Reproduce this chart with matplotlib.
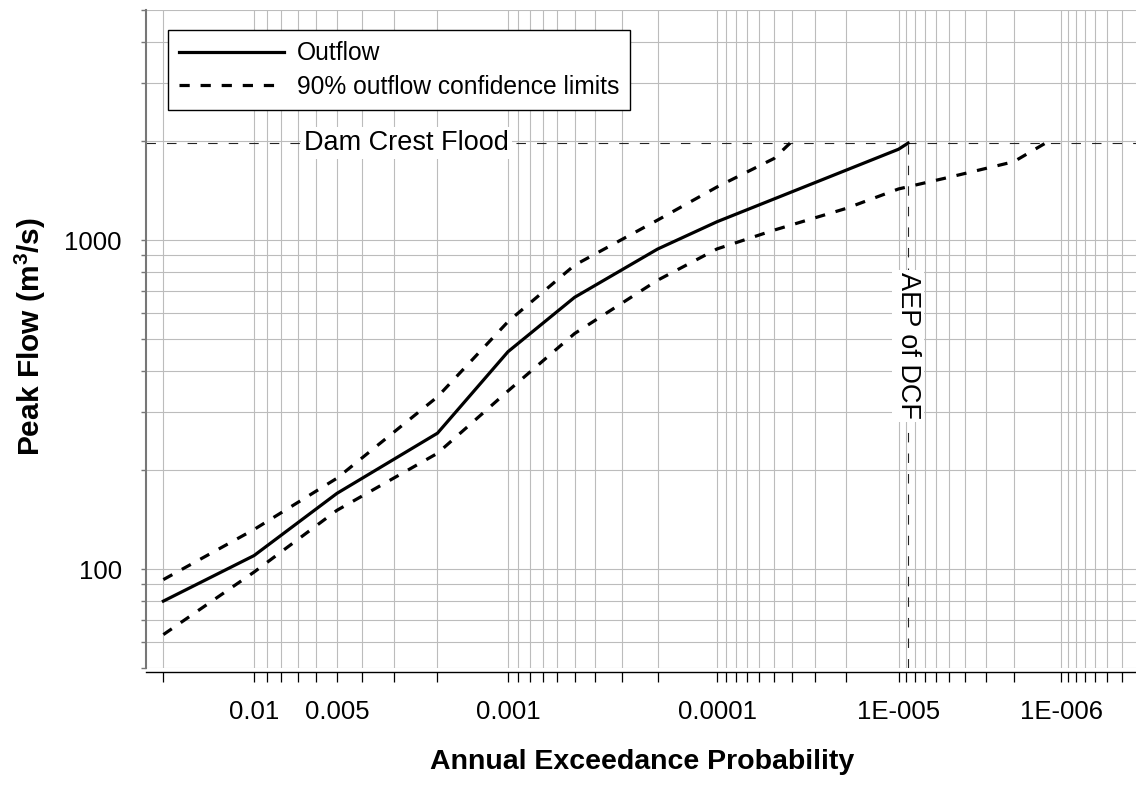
import numpy as np
import matplotlib
matplotlib.use("Agg")
import matplotlib.pyplot as plt
from matplotlib.ticker import FixedLocator, NullFormatter, FuncFormatter
from statistics import NormalDist

plt.rcParams['font.family'] = ['Liberation Sans', 'DejaVu Sans']
plt.rcParams['mathtext.fontset'] = 'custom'
plt.rcParams['mathtext.rm'] = 'Liberation Sans'
plt.rcParams['mathtext.bf'] = 'Liberation Sans:bold'

# flood frequency curve, AEP vs peak flow (m3/s)
aep_outflow = [0.02, 0.01, 0.005, 0.002, 0.001, 0.0005, 0.0002, 0.0001, 1e-5, 8.8e-6]
outflow = [80, 110, 170, 259, 458, 670, 939, 1137, 1888, 1970]

aep_upper = [0.02, 0.01, 0.005, 0.002, 0.001, 0.0005, 0.0002, 0.0001, 5e-5, 4.1e-5]
upper = [93, 132, 189, 334, 565, 839, 1150, 1450, 1770, 1970]

aep_lower = [0.02, 0.01, 0.005, 0.002, 0.001, 0.0005, 0.0002, 0.0001,
             5e-5, 2e-5, 1e-5, 5e-6, 2e-6, 1.26e-6]
lower = [63.3, 98, 151, 225, 348, 520, 755, 940, 1072, 1248, 1430, 1552, 1730, 1970]

dam_crest_flood = 1970
aep_dcf = 8.8e-6

xtick_vals = [0.01, 0.005, 0.001, 0.0001, 1e-5, 1e-6]
xtick_labels = ['0.01', '0.005', '0.001', '0.0001', '1E-005', '1E-006']

_nd = NormalDist()


def aep_to_z(p):
    p = np.clip(np.asarray(p, dtype=float), 1e-15, 1 - 1e-15)
    out = [-_nd.inv_cdf(v) if np.isfinite(v) else np.nan for v in p.ravel()]
    return np.array(out).reshape(p.shape)


def z_to_aep(z):
    z = np.asarray(z, dtype=float)
    out = [_nd.cdf(-v) if np.isfinite(v) else np.nan for v in z.ravel()]
    return np.array(out).reshape(z.shape)


W, H = 1136, 801
fig = plt.figure(figsize=(W / 100, H / 100), dpi=100)
ax = fig.add_axes([145.5 / W, 1 - 668.3 / H, 997.5 / W, 658.3 / H])

ax.set_xscale('function', functions=(aep_to_z, z_to_aep))
ax.set_yscale('log')
# normal probability paper: rarer events to the right
ax.set_xlim(float(z_to_aep(5.0)), float(z_to_aep(2.0)))
ax.set_ylim(50, 5000)

# probability paper ticks: 0.02, then 9..2 per decade
minor_x = [0.02]
for e in range(-3, -8, -1):
    minor_x += [k * 10.0 ** e for k in range(9, 1, -1)]
minor_x = [v for v in minor_x if v not in xtick_vals and v > 2.9e-7]
ax.xaxis.set_major_locator(FixedLocator(xtick_vals))
ax.xaxis.set_major_formatter(FuncFormatter(lambda v, pos: xtick_labels[pos] if pos is not None and pos < len(xtick_labels) else ''))
ax.xaxis.set_minor_locator(FixedLocator(minor_x))
ax.xaxis.set_minor_formatter(NullFormatter())

minor_y = [50, 60, 70, 80, 90] + [k * 100 for k in range(2, 10)] + [2000, 3000, 4000, 5000]
ax.yaxis.set_major_locator(FixedLocator([100, 1000]))
ax.yaxis.set_major_formatter(FuncFormatter(lambda v, pos: '%d' % v))
ax.yaxis.set_minor_locator(FixedLocator(minor_y))
ax.yaxis.set_minor_formatter(NullFormatter())

ax.grid(True, which='both', color='#bcbcbc', linewidth=0.8)
ax.set_axisbelow(True)

for s in ['top', 'right']:
    ax.spines[s].set_visible(False)
ax.spines['left'].set_color('#777777')
ax.spines['left'].set_linewidth(1.5)
ax.spines['bottom'].set_color('black')
ax.spines['bottom'].set_linewidth(1.0)
ax.spines['bottom'].set_position(('outward', 3))

ax.tick_params(axis='x', which='both', direction='out', length=7.5, width=0.9,
               color='black', pad=12, labelsize=18.5)
ax.tick_params(axis='y', which='both', direction='out', length=3.6, width=1.0,
               color='#777777', pad=13.5, labelsize=18.5)

# dam crest flood reference lines
ax.axhline(dam_crest_flood, color='#222222', linewidth=0.8, linestyle=(0, (8.5, 10)), zorder=2)
ax.vlines(aep_dcf, 50, dam_crest_flood, color='#222222', linewidth=0.8,
          linestyles=[(0, (8.5, 10))], zorder=2)

ax.plot(aep_outflow, outflow, color='black', linewidth=2.3, label='Outflow', zorder=4)
ax.plot(aep_upper, upper, color='black', linewidth=2.3, linestyle=(0, (3.2, 3.4)),
        label='90% outflow confidence limits', zorder=4)
ax.plot(aep_lower, lower, color='black', linewidth=2.3, linestyle=(0, (3.2, 3.4)), zorder=4)

ax.text(0.2617, dam_crest_flood, 'Dam Crest Flood', transform=ax.get_yaxis_transform(),
        ha='center', va='center', fontsize=19.5,
        bbox=dict(facecolor='white', edgecolor='none', pad=2), zorder=3)
ax.text(aep_dcf, 0.4896, 'AEP of DCF', transform=ax.get_xaxis_transform(),
        ha='center', va='center', rotation=-90, fontsize=19.5,
        bbox=dict(facecolor='white', edgecolor='none', pad=2), zorder=3)

leg = ax.legend(loc='upper left', bbox_to_anchor=(0.0223, 0.9696), borderaxespad=0,
                fontsize=17.7, frameon=True, fancybox=False, edgecolor='black',
                framealpha=1, handlelength=4.27, handletextpad=0.52, borderpad=0.46,
                labelspacing=0.38)
leg.get_frame().set_linewidth(1.0)
leg.set_zorder(5)

fig.text(642 / W, 1 - 762 / H, 'Annual Exceedance Probability', ha='center', va='center',
         fontsize=20.5, fontweight='bold')
fig.text(30 / W, 1 - 337 / H, r'Peak Flow (m$^{\mathbf{3}}$/s)', ha='center', va='center',
         rotation=90, fontsize=21.5, fontweight='bold')

fig.savefig('out.png', dpi=100)
